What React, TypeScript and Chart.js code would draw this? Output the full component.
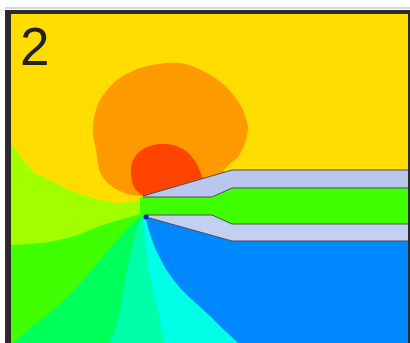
import React, { useEffect, useRef } from "react";
import { Chart, registerables } from "chart.js";

Chart.register(...registerables);

type P = { x: number; y: number };
const pts = (a: number[][]): P[] => a.map(([x, y]) => ({ x, y }));

// Panel label
const panelLabel = "2";

// Field domain (plot coordinates)
const X_RANGE = [11, 408];
const Y_RANGE = [14, 343];

// Contour level colours (low -> high)
const levelColors = {
  blue: "#0088ff",
  cyan: "#00ffe6",
  aqua: "#00ffaa",
  spring: "#00ff5a",
  green: "#40ff00",
  yellowGreen: "#a2ff00",
  yellow: "#ffdd00",
  orange: "#ff9900",
  red: "#ff4400",
};

// Background (yellow level)
const backgroundShape = [[-20, -20], [500, -20], [500, 500], [-20, 500]];

// Orange iso-region
const orangeContour = [
  [143, 196], [127, 194], [110, 185], [100, 172], [96, 150], [93, 133], [94, 118],
  [100, 100], [117, 80], [140, 68], [167, 63], [186, 64], [205, 72], [222, 83],
  [235, 97], [243, 110], [248, 128], [245, 143], [238, 157], [230, 164], [224, 171],
  [228, 181],
];

// Red iso-region
const redContour = [
  [143, 196], [138, 192], [133, 185], [131, 173], [132, 163], [137, 154], [147, 147],
  [160, 144], [173, 145], [186, 151], [195, 161], [200, 171], [203, 179], [205, 190],
];

// Fan boundaries radiating from the tip (outer end -> tip)
const yellowToYellowGreen = [
  [0, 140], [11, 143], [22, 158], [33, 172], [50, 180], [67, 189], [83, 195],
  [100, 200], [117, 203], [133, 202], [143, 200],
];
const yellowGreenToGreen = [
  [0, 246], [11, 245], [30, 244], [50, 242], [75, 236], [90, 230], [100, 226],
  [112, 222], [123, 219], [140, 214], [143, 212],
];
const greenToSpring = [
  [0, 356], [13, 343], [30, 328], [50, 313], [67, 297], [83, 280], [100, 260],
  [112, 246], [120, 237], [132, 224], [143, 215],
];
const springToAqua = [
  [107, 360], [110, 343], [115, 328], [120, 313], [123, 290], [127, 270], [130, 258],
  [134, 240], [137, 228], [142, 217],
];
const aquaToCyan = [
  [168, 360], [165, 343], [161, 325], [158, 310], [154, 295], [151, 280], [148, 265],
  [146, 250], [144, 235], [143, 222], [144, 218],
];
const cyanToBlue = [
  [256, 360], [238, 343], [222, 328], [210, 316], [199, 306], [190, 298], [180, 288],
  [172, 278], [165, 268], [160, 258], [155, 248], [152, 240], [148, 228], [146, 218],
];
// closing path of each fan region (hidden below the nozzle, outside the field)
const fanClosure = [[150, 205], [200, 205], [300, 205], [400, 205], [500, 205], [500, 500], [-20, 500]];

// Nozzle geometry
const upperPlate = [[143, 196], [232, 170], [430, 170], [430, 188], [232, 188], [212, 197], [143, 197]];
const lowerPlate = [[146, 215], [212, 215], [232, 224], [430, 224], [430, 241], [232, 241], [146, 217]];
const channel = [[140, 197], [212, 197], [232, 188], [430, 188], [430, 224], [232, 224], [212, 215], [140, 215]];

// Singular point at the lower lip
const tipPoint = [[146, 217]];

function polygon(data: number[][], color: string, tension = 0, border?: string) {
  return {
    type: "line" as const,
    data: pts(data),
    backgroundColor: color,
    borderColor: border ?? color,
    borderWidth: border ? 1 : 0,
    pointRadius: 0,
    pointHoverRadius: 0,
    fill: "shape",
    tension,
  };
}

export default function App() {
  const ref = useRef<HTMLCanvasElement | null>(null);

  useEffect(() => {
    const canvas = ref.current;
    if (!canvas) return;

    const layers: any[] = [
      polygon(backgroundShape, levelColors.yellow),
      polygon(orangeContour, levelColors.orange, 0.3),
      polygon(redContour, levelColors.red, 0.3),
      polygon([...yellowToYellowGreen, ...fanClosure], levelColors.yellowGreen),
      polygon([...yellowGreenToGreen, ...fanClosure], levelColors.green),
      polygon([...greenToSpring, ...fanClosure], levelColors.spring),
      polygon([...springToAqua, ...fanClosure], levelColors.aqua),
      polygon([...aquaToCyan, ...fanClosure], levelColors.cyan),
      polygon([...cyanToBlue, ...fanClosure], levelColors.blue),
      polygon(channel, levelColors.green),
      polygon(upperPlate, "#bac6ec", 0, "#4c4c5a"),
      polygon(lowerPlate, "#c4d0f0", 0, "#4c4c5a"),
      {
        type: "line" as const,
        data: pts(tipPoint),
        showLine: false,
        pointRadius: 2.5,
        pointHoverRadius: 2.5,
        pointBackgroundColor: "#0a22d8",
        pointBorderWidth: 0,
      },
    ];
    const n = layers.length;
    layers.forEach((d, i) => (d.order = n - i));

    const framePlugin = {
      id: "frame",
      beforeDraw(chart: any) {
        const ctx = chart.ctx;
        ctx.save();
        ctx.fillStyle = "#ffffff";
        ctx.fillRect(0, 0, chart.width, chart.height);
        ctx.fillStyle = "#d6d6d6";
        ctx.fillRect(5, 7, chart.width - 5, 2);
        ctx.fillStyle = "#2b2b2b";
        ctx.fillRect(5, 10, chart.width - 5, chart.height - 10);
        ctx.restore();
      },
      afterDraw(chart: any) {
        const ctx = chart.ctx;
        ctx.save();
        ctx.fillStyle = "#222222";
        ctx.font = '53px "Liberation Sans", Arial, sans-serif';
        ctx.textBaseline = "alphabetic";
        ctx.fillText(panelLabel, 20, 65);
        ctx.restore();
      },
    };

    const chart = new Chart(canvas, {
      type: "line",
      data: { datasets: layers },
      options: {
        animation: false,
        responsive: false,
        devicePixelRatio: 1,
        events: [],
        layout: { autoPadding: false, padding: { left: 11, top: 14, right: 2, bottom: 0 } },
        plugins: { legend: { display: false }, tooltip: { enabled: false } },
        scales: {
          x: { type: "linear", min: X_RANGE[0], max: X_RANGE[1], display: false },
          y: { type: "linear", min: Y_RANGE[0], max: Y_RANGE[1], reverse: true, display: false },
        },
      },
      plugins: [framePlugin],
    });
    return () => chart.destroy();
  }, []);

  return (
    <div style={{ position: "fixed", left: 0, top: 0, width: 410, height: 343 }}>
      <canvas ref={ref} width={410} height={343} style={{ display: "block" }} />
    </div>
  );
}
